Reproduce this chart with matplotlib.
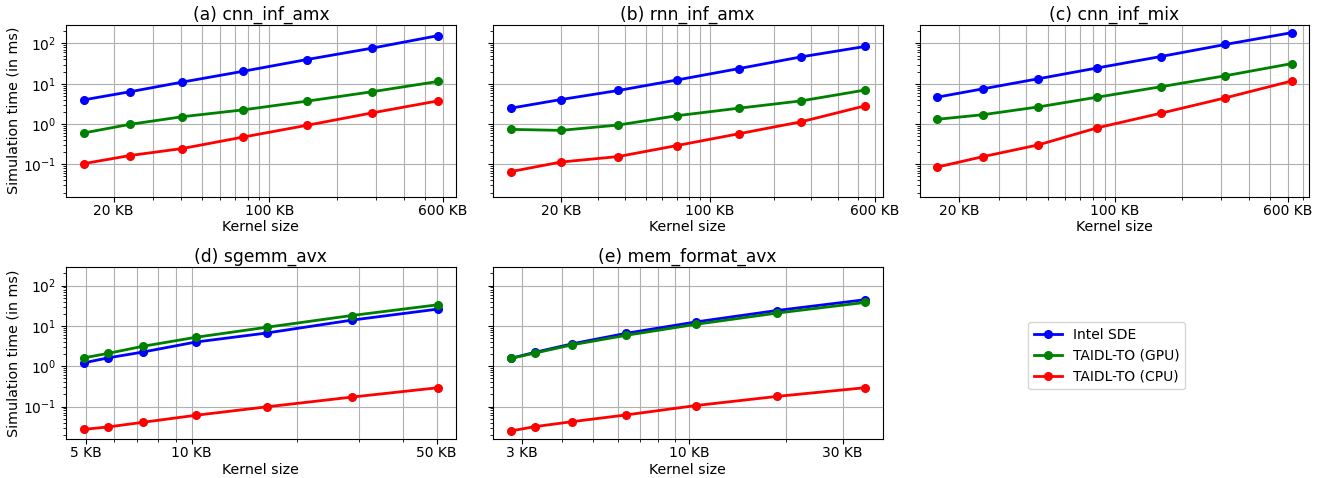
import numpy as np
import matplotlib.pyplot as plt
from matplotlib.ticker import NullFormatter

# ---- data (kernel size in KB, simulation time in ms) ----
titles = ['(a) cnn_inf_amx', '(b) rnn_inf_amx', '(c) cnn_inf_mix',
          '(d) sgemm_avx', '(e) mem_format_avx']

size_a = [14.7, 23.6, 40.7, 75.9, 147, 287, 570]
sde_a = [3.98, 6.3, 11.0, 20.3, 39.8, 76, 156]
gpu_a = [0.60, 0.98, 1.52, 2.24, 3.69, 6.3, 11.4]
cpu_a = [0.104, 0.165, 0.247, 0.473, 0.928, 1.88, 3.76]

size_b = [11.6, 20.0, 37.2, 70.3, 137, 270, 537]
sde_b = [2.47, 4.05, 6.8, 12.4, 23.7, 46.5, 84]
gpu_b = [0.737, 0.696, 0.944, 1.61, 2.47, 3.76, 6.96]
cpu_b = [0.0657, 0.114, 0.156, 0.293, 0.573, 1.14, 2.82]

size_c = [15.9, 25.6, 45.3, 83.6, 161, 315, 626]
sde_c = [4.65, 7.5, 13.3, 24.7, 47.3, 94.4, 185]
gpu_c = [1.31, 1.71, 2.66, 4.65, 8.4, 15.8, 31.6]
cpu_c = [0.0856, 0.156, 0.304, 0.808, 1.85, 4.47, 11.7]

size_d = [4.92, 5.77, 7.24, 10.27, 16.4, 28.6, 50.5]
sde_d = [1.21, 1.61, 2.24, 3.98, 6.68, 13.9, 26.2]
gpu_d = [1.61, 2.08, 3.11, 5.22, 9.28, 18.1, 33.5]
cpu_d = [0.0271, 0.0311, 0.0405, 0.0606, 0.0983, 0.171, 0.293]

size_e = [2.77, 3.29, 4.32, 6.36, 10.5, 18.7, 35.2]
sde_e = [1.56, 2.2, 3.61, 6.57, 12.6, 24.1, 44.7]
gpu_e = [1.56, 2.11, 3.41, 5.86, 11.0, 20.8, 38.2]
cpu_e = [0.0247, 0.0316, 0.0422, 0.062, 0.106, 0.178, 0.293]

xticks_top = [20, 100, 600]
xticks_d = [5, 10, 50]
xticks_e = [3, 10, 30]

panels = [
    (size_a, sde_a, gpu_a, cpu_a, xticks_top),
    (size_b, sde_b, gpu_b, cpu_b, xticks_top),
    (size_c, sde_c, gpu_c, cpu_c, xticks_top),
    (size_d, sde_d, gpu_d, cpu_d, xticks_d),
    (size_e, sde_e, gpu_e, cpu_e, xticks_e),
]

labels = ['Intel SDE', 'TAIDL-TO (GPU)', 'TAIDL-TO (CPU)']
colors = ['blue', 'green', 'red']

fig, axes = plt.subplots(2, 3, figsize=(13.2, 4.78), dpi=100, sharey=True)
fig.subplots_adjust(left=0.05, right=0.992, top=0.948, bottom=0.082,
                    wspace=0.095, hspace=0.41)
axes = axes.flatten()

for i, (size, sde, gpu, cpu, ticks) in enumerate(panels):
    ax = axes[i]
    for ys, c, lab in zip([sde, gpu, cpu], colors, labels):
        ax.plot(size, ys, marker='o', color=c, linewidth=2, markersize=5.5, label=lab)
    ax.set_xscale('log')
    ax.set_yscale('log')
    ax.set_xticks(ticks)
    ax.set_xticklabels([f'{t} KB' for t in ticks])
    ax.xaxis.set_minor_formatter(NullFormatter())
    ax.tick_params(labelsize=10)
    ax.tick_params(axis='x', which='major', pad=1.5)
    ax.grid(True, which='major')
    ax.xaxis.grid(True, which='minor')
    ax.set_title(titles[i], fontsize=12.3, pad=3.5)
    ax.set_xlabel('Kernel size', fontsize=10.3, labelpad=2)
    if i % 3 == 0:
        ax.set_ylabel('Simulation time (in ms)', fontsize=10.3, labelpad=2)

# last slot holds the legend only
axes[5].axis('off')
handles, labs = axes[0].get_legend_handles_labels()
axes[5].legend(handles, labs, loc='center', bbox_to_anchor=(0.48, 0.483), fontsize=10)

plt.savefig('out.png', dpi=100)
